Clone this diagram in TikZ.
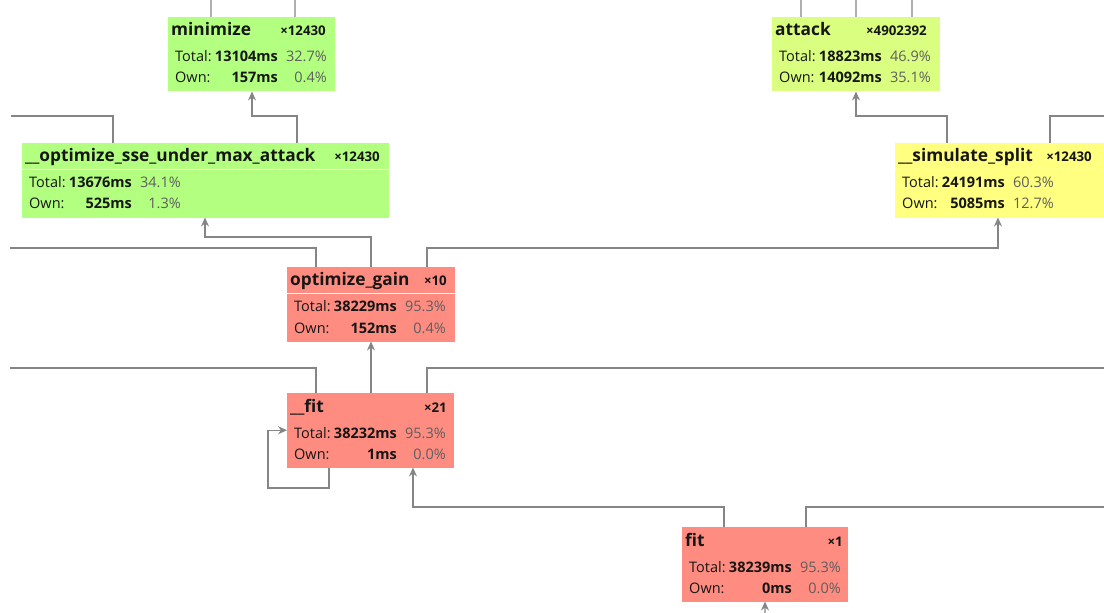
\documentclass[tikz,border=0pt]{standalone}
\usepackage{fontspec}
\setmainfont{Open Sans}
\usetikzlibrary{arrows.meta}

\definecolor{cgreen}{HTML}{B3FF80}
\definecolor{clime}{HTML}{DAFF80}
\definecolor{cyellow}{HTML}{FFFF80}
\definecolor{cred}{HTML}{FF8C80}
\definecolor{clink}{HTML}{858585}
\definecolor{cpct}{HTML}{5E5E5E}
\definecolor{ctext}{HTML}{161616}

\tikzset{
  fbox/.style={inner sep=0pt, outer sep=0pt, minimum height=74.5bp, anchor=north west},
  link/.style={draw=clink, line width=1.1bp},
  arr/.style={link, -{Stealth[length=9bp,width=8bp,inset=3bp]}},
  ttl/.style={inner sep=0pt, anchor=base west, text=ctext,
    font=\fontsize{17.3bp}{19bp}\selectfont\bfseries},
  cnt/.style={inner sep=0pt, anchor=base east, text=ctext,
    font=\fontsize{13.3bp}{15bp}\selectfont\bfseries},
  lbl/.style={inner sep=0pt, anchor=base west, text=ctext,
    font=\fontsize{14.5bp}{16bp}\selectfont},
  val/.style={inner sep=0pt, anchor=base east, text=ctext,
    font=\fontsize{14.5bp}{16bp}\selectfont\bfseries},
  pct/.style={inner sep=0pt, anchor=base east, text=cpct,
    font=\fontsize{14.5bp}{16bp}\selectfont},
}

% title row: node name, title, count, right edge of count (from left side)
\newcommand\ftitle[4]{%
  \path ([shift={(3,19)}]#1.north west) node[ttl] {#2};
  \path ([shift={(#4,19)}]#1.north west) node[cnt] {#3};}
% stats rows: node name, total, total %, own, own %
\newcommand\fstats[5]{%
  \path ([shift={(7,45)}]#1.north west) node[lbl] {Total:};
  \path ([shift={(110,45)}]#1.north west) node[val] {#2};
  \path ([shift={(159,45)}]#1.north west) node[pct] {#3};
  \path ([shift={(7,66)}]#1.north west) node[lbl] {Own:};
  \path ([shift={(110,66)}]#1.north west) node[val] {#4};
  \path ([shift={(159,66)}]#1.north west) node[pct] {#5};}
% white rule under the title row
\newcommand\fsep[1]{%
  \draw[white, line width=1.2bp] ([shift={(0,26.5)}]#1.north west) -- ([shift={(0,26.5)}]#1.north east);}

\begin{document}
\begin{tikzpicture}[x=1bp, y=-1bp]
\useasboundingbox[fill=white] (0,0) rectangle (1104,613);

% function boxes
\node[fbox, fill=cgreen,  minimum width=167bp] (minimize) at (168,17) {};
\node[fbox, fill=clime,   minimum width=168bp] (attack)   at (772,17) {};
\node[fbox, fill=cgreen,  minimum width=367bp] (sse)      at (22,143) {};
\node[fbox, fill=cyellow, minimum width=209bp] (split)    at (895,143) {};
\node[fbox, fill=cred,    minimum width=168bp] (gain)     at (287,267) {};
\node[fbox, fill=cred,    minimum width=167bp] (ufit)     at (287,393) {};
\node[fbox, fill=cred,    minimum width=166bp] (nfit)     at (682,527) {};

\fsep{sse} \fsep{split} \fsep{gain}

\ftitle{minimize}{minimize}{×12430}{158}
\fstats{minimize}{13104ms}{32.7\%}{157ms}{0.4\%}
\ftitle{attack}{attack}{×4902392}{155}
\fstats{attack}{18823ms}{46.9\%}{14092ms}{35.1\%}
\ftitle{sse}{\_\_optimize\_sse\_under\_max\_attack}{×12430}{358}
\fstats{sse}{13676ms}{34.1\%}{525ms}{1.3\%}
\ftitle{split}{\_\_simulate\_split}{×12430}{197}
\fstats{split}{24191ms}{60.3\%}{5085ms}{12.7\%}
\ftitle{gain}{optimize\_gain}{×10}{160}
\fstats{gain}{38229ms}{95.3\%}{152ms}{0.4\%}
\ftitle{ufit}{\_\_fit}{×21}{160}
\fstats{ufit}{38232ms}{95.3\%}{1ms}{0.0\%}
\ftitle{nfit}{fit}{×1}{161}
\fstats{nfit}{38239ms}{95.3\%}{0ms}{0.0\%}

% loose ends of connectors running off the picture
\coordinate (topA) at (211,0);
\coordinate (topB) at (295,0);
\coordinate (topC) at (801,0);
\coordinate (topD) at (856,0);
\coordinate (topE) at (912,0);
\coordinate (west1) at (11,116);
\coordinate (east1) at (1104,116);
\coordinate (west2) at (10,248);
\coordinate (west3) at (10,368);
\coordinate (east3) at (1104,368);
\coordinate (east4) at (1104,507);
\coordinate (south1) at (765,613);
\coordinate (loop) at (268,488);

% callers above the top row
\draw[link] ([xshift=43bp]minimize.north west) -- (topA);
\draw[link] ([xshift=127bp]minimize.north west) -- (topB);
\draw[link] ([xshift=29bp]attack.north west) -- (topC);
\draw[link] ([xshift=84bp]attack.north west) -- (topD);
\draw[link] ([xshift=140bp]attack.north west) -- (topE);

% second row
\draw[link] ([xshift=91bp]sse.north west) |- (west1);
\draw[arr] ([xshift=275bp]sse.north west) -- ++(0,-27) -| ([xshift=84bp]minimize.south west);
\draw[arr] ([xshift=52bp]split.north west) -- ++(0,-27) -| ([xshift=84bp]attack.south west);
\draw[link] ([xshift=155bp]split.north west) |- (east1);

% optimize_gain
\draw[link] ([xshift=29bp]gain.north west) |- (west2);
\draw[arr] ([xshift=84bp]gain.north west) -- ++(0,-30) -| ([xshift=183bp]sse.south west);
\draw[arr] ([xshift=140bp]gain.north west) -- ++(0,-19) -| ([xshift=103bp]split.south west);

% __fit
\draw[link] ([xshift=29bp]ufit.north west) |- (west3);
\draw[arr] ([xshift=84bp]ufit.north west) -- ([xshift=84bp]gain.south west);
\draw[link] ([xshift=140bp]ufit.north west) |- (east3);
\draw[arr] ([xshift=42bp]ufit.south west) |- (loop) |- (ufit.west);

% fit
\draw[arr] ([xshift=42bp]nfit.north west) -- ++(0,-20) -| ([xshift=126bp]ufit.south west);
\draw[link] ([xshift=124bp]nfit.north west) |- (east4);
\draw[arr] (south1) -- ([xshift=83bp]nfit.south west);
\end{tikzpicture}
\end{document}
